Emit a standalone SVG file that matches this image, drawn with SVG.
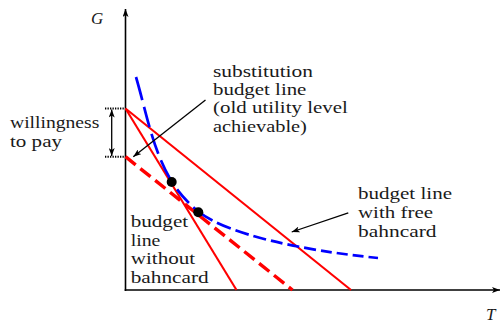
<svg xmlns="http://www.w3.org/2000/svg" width="501" height="324" viewBox="0 0 501 324">
<style>
text{font-family:"Liberation Serif","DejaVu Serif","Noto Serif","Nimbus Roman","FreeSerif","Times New Roman",Times,serif;font-size:17px;fill:#1a1a1a}
.it{font-style:italic}
.ax{stroke:#000;stroke-width:1.6;fill:none}
.arr{stroke:#000;stroke-width:1.3;fill:none}
.red{stroke:#f00;stroke-width:2.1;fill:none}
.redd{stroke:#f00;stroke-width:3.4;fill:none;stroke-dasharray:13 6}
.blue{stroke:#00f;stroke-width:2.7;fill:none}
.dot{stroke:#000;stroke-width:2;stroke-dasharray:1.3 1.2;fill:none}
</style>
<defs>
<marker id="ah" viewBox="0 0 8 6" refX="8" refY="3" markerWidth="8" markerHeight="6" markerUnits="userSpaceOnUse" orient="auto-start-reverse">
<path d="M0,0 L8,3 L0,6 L2,3 z" fill="#000"/>
</marker>
</defs>
<g id="axes">
<line class="ax" x1="125.5" y1="291" x2="125.5" y2="9" marker-end="url(#ah)"/>
<line class="ax" x1="124.7" y1="290" x2="500" y2="290" marker-end="url(#ah)"/>
<text class="it" x="91" y="24">G</text>
<text class="it" x="486" y="320">T</text>
</g>
<g id="willingness">
<line class="dot" x1="105" y1="108.5" x2="125" y2="108.5"/>
<line class="dot" x1="105" y1="156.7" x2="125" y2="156.7"/>
<line class="arr" x1="111.7" y1="109.5" x2="111.7" y2="156" marker-start="url(#ah)" marker-end="url(#ah)"/>
<text x="10" y="128.3" textLength="89.3" lengthAdjust="spacingAndGlyphs">willingness</text>
<text x="10" y="146.7" textLength="52" lengthAdjust="spacingAndGlyphs">to pay</text>
</g>
<g id="budget-lines">
<line class="red" x1="125.5" y1="108.5" x2="236.5" y2="290"/>
<line class="red" x1="125.5" y1="108.5" x2="351" y2="290"/>
<line class="redd" x1="125.5" y1="156.7" x2="292.5" y2="290"/>
</g>
<g id="indifference-curve">
<path class="blue" d="M136,77 C146.4,112.5 152.6,150.5 172,182" stroke-dasharray="24 7 21 7 21 7 21 7"/>
<path class="blue" d="M172,182 C178.8,193.1 188.8,203.9 199,212" stroke-dasharray="3 6 18 6 20"/>
<path class="blue" d="M199,212 C226.5,233.7 298,250 378,258" stroke-dasharray="16 5 15 5 14 5 13 5 12 5 12 5 12 5 11 5 11 5 11 5 11 5 11 5 11 5 11"/>
</g>
<g id="tangent-points">
<circle cx="171.7" cy="182" r="5" fill="#000"/>
<circle cx="198.3" cy="212.3" r="5" fill="#000"/>
</g>
<g id="connectors">
<line class="arr" x1="205.5" y1="100" x2="133.3" y2="156.7" marker-end="url(#ah)"/>
<line class="arr" x1="348.3" y1="212.8" x2="291.7" y2="232" marker-end="url(#ah)"/>
</g>
<g id="label-substitution">
<text x="213" y="76.7" textLength="100" lengthAdjust="spacingAndGlyphs">substitution</text>
<text x="213" y="95" textLength="93.4" lengthAdjust="spacingAndGlyphs">budget line</text>
<text x="213" y="113.3" textLength="134.8" lengthAdjust="spacingAndGlyphs">(old utility level</text>
<text x="213" y="131.7" textLength="93.9" lengthAdjust="spacingAndGlyphs">achievable)</text>
</g>
<g id="label-without">
<text x="130.7" y="226.7" textLength="57.5" lengthAdjust="spacingAndGlyphs">budget</text>
<text x="130.7" y="245.5" textLength="29.7" lengthAdjust="spacingAndGlyphs">line</text>
<text x="130.7" y="264.3" textLength="64.5" lengthAdjust="spacingAndGlyphs">without</text>
<text x="130.7" y="283.2" textLength="78" lengthAdjust="spacingAndGlyphs">bahncard</text>
</g>
<g id="label-free">
<text x="358" y="199" textLength="94" lengthAdjust="spacingAndGlyphs">budget line</text>
<text x="358" y="218" textLength="75" lengthAdjust="spacingAndGlyphs">with free</text>
<text x="358" y="236.7" textLength="78.5" lengthAdjust="spacingAndGlyphs">bahncard</text>
</g>
</svg>
